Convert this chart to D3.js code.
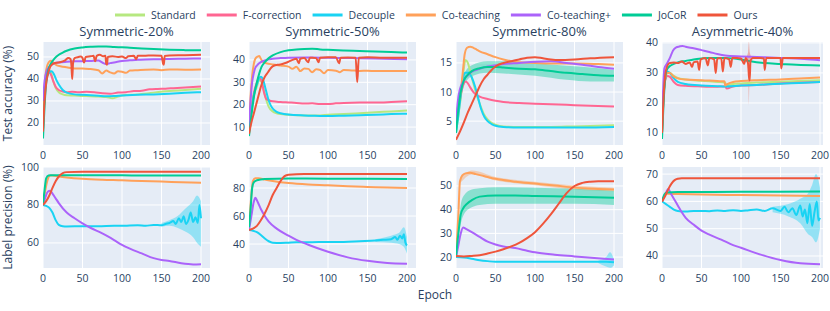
<!DOCTYPE html>
<html>
<head>
<meta charset="utf-8">
<title>Noisy label curves</title>
<script src="https://d3js.org/d3.v7.min.js"></script>
<style>
body { margin: 0; background: #fff; font-family: 'Open Sans', verdana, arial, sans-serif; }
svg text { fill: #2a3f5f; }
</style>
</head>
<body>
<script>
// ---- data ----
var methods = ["Standard", "F-correction", "Decouple", "Co-teaching", "Co-teaching+", "JoCoR", "Ours"];
var panelTitles = ["Symmetric-20%", "Symmetric-50%", "Symmetric-80%", "Asymmetric-40%"];
var rowTitles = ["Test accuracy (%)", "Label precision (%)"];
var xTicks = [0, 50, 100, 150, 200];
var yTicksAcc = [[20, 30, 40, 50], [10, 20, 30, 40], [5, 10, 15], [10, 20, 30, 40]];
var yTicksPrec = [[60, 80, 100], [40, 60, 80], [20, 30, 40, 50], [40, 50, 60, 70]];
var yRangeAcc = [[10, 56.8], [2, 48], [0.9, 18.6], [6, 40.3]];
var yRangePrec = [[46.8, 100], [22.9, 95], [15.4, 58], [35.6, 72.6]];

// test accuracy, [epoch, value]
var accSym20 = {
  "Standard": [[0,17],[2,33],[5,42],[8,44],[10,43],[13,39],[16,36],[20,34],[25,33],[30,32.6],[40,32.5],[50,32.3],[60,32.2],[70,32],[80,31.8],[88,31.2],[95,32],[100,32.5],[120,33],[140,33.8],[160,34.5],[180,35],[200,35.6]],
  "F-correction": [[0,17],[2,33],[5,41],[8,43],[10,42],[13,39],[16,36.5],[20,35],[25,34.3],[30,34],[37,34.2],[45,34],[55,34.2],[65,34],[75,33.5],[85,33.3],[95,33.8],[105,34],[115,34.5],[125,34.7],[135,35.3],[145,35.5],[155,35.6],[165,35.8],[180,36.1],[200,36.6]],
  "Decouple": [[0,17],[2,33],[5,41],[8,43],[11,43.5],[14,42],[17,39.5],[20,37.5],[25,35],[30,33.8],[40,33],[50,32.8],[60,32.6],[70,32.4],[80,32.2],[90,32.3],[100,32.5],[120,32.8],[140,33],[160,33.3],[180,33.7],[200,34]],
  "Co-teaching": [[0,22],[2,36],[4,44],[7,47.5],[10,48.3],[13,47.5],[17,46.3],[22,45.8],[30,45.3],[40,44.8],[50,44.8],[60,44.5],[70,44],[75,42.5],[80,43.8],[85,43],[90,42.5],[95,43.5],[100,43.3],[105,42.8],[110,43.8],[120,44],[130,44.2],[140,44.3],[150,44],[160,44.3],[180,44.2],[200,44.3]],
  "Co-teaching+": [[0,30],[2,39],[5,44],[10,46.3],[15,47.2],[20,47.5],[30,47.8],[40,48],[50,48.1],[60,48.2],[70,48.4],[75,47.5],[80,46.8],[85,47.2],[90,47.5],[100,48.2],[110,48.5],[120,48.7],[130,48.9],[140,49],[150,49],[160,49.1],[180,49.2],[200,49.3]],
  "JoCoR": [[0,13],[2,28],[4,38],[6,43],[8,45.5],[10,47],[15,49.5],[20,51],[25,52],[30,52.8],[40,53.8],[50,54.3],[60,54.6],[70,54.8],[80,54.8],[90,54.5],[100,54.4],[110,54.2],[120,54],[140,53.6],[160,53.3],[180,53.1],[200,53]],
  "Ours": [[0,16],[2,30],[4,38],[6,42],[8,44.5],[10,46],[15,47.3],[20,47.5],[25,48],[28,48.5],[32,49.5],[35,49],[36,46],[37,40],[38,47],[40,49.5],[45,50],[48,50.2],[50,49.5],[52,47.5],[54,50],[60,50.3],[64,50.5],[66,48],[68,50.5],[72,51],[76,50.3],[79,50.5],[80,47],[81,46.5],[82,50],[88,50.3],[95,50],[100,50.2],[105,49.5],[108,50.3],[115,50.5],[118,49],[120,50.5],[130,50.6],[140,50.7],[150,50.6],[152,47],[153,46.5],[154,50.5],[160,50.7],[180,50.8],[200,51]]
};
var accSym50 = {
  "Standard": [[0,8],[3,18],[6,24],[10,28],[13,31],[16,30],[19,26],[22,22],[25,19],[30,17],[35,16.2],[40,15.8],[50,15.5],[70,15.2],[90,15.2],[100,15.5],[120,15.8],[140,16.2],[160,16.6],[180,17],[200,17.4]],
  "F-correction": [[0,8],[3,18],[6,25],[10,30],[13,32],[16,30.5],[19,25.5],[22,22.5],[25,22],[30,21.5],[40,21.2],[50,21],[60,20.8],[70,20.5],[80,20.6],[90,20.3],[100,20.3],[110,20.6],[120,20.8],[140,21],[160,21],[180,21.2],[200,21.5]],
  "Decouple": [[0,8],[3,17],[6,24],[10,29],[13,32],[15,32.5],[18,31],[21,27],[24,23],[27,20],[30,18.3],[35,16.8],[40,16.2],[50,15.6],[70,15.2],[90,15],[100,14.9],[120,15.1],[140,15.3],[160,15.5],[180,15.8],[200,16]],
  "Co-teaching": [[0,10],[2,24],[4,33],[6,38],[8,40.5],[11,41.5],[13,41.7],[15,40.5],[18,39],[22,38.5],[30,38],[40,37.5],[50,37],[55,36],[60,37],[65,35],[70,36.2],[75,36],[80,34.5],[85,35.8],[90,35.5],[95,34],[100,35.5],[110,35.2],[115,34.5],[120,35.5],[130,35.3],[140,35.1],[150,35.2],[160,35],[180,35.1],[200,35]],
  "Co-teaching+": [[0,10],[2,22],[4,30],[6,34],[8,36.5],[10,37.5],[15,39],[20,39.8],[30,40.5],[40,40.8],[50,41],[70,41.1],[90,41],[100,41],[130,40.8],[160,40.6],[200,40.3]],
  "JoCoR": [[0,6],[3,15],[6,23],[8,27],[10,30],[13,34],[16,37],[20,39],[25,40.8],[30,42],[40,43.5],[50,44.3],[60,44.7],[70,44.9],[80,45],[90,44.7],[100,44.5],[120,44.2],[140,44],[160,43.8],[180,43.5],[200,43.3]],
  "Ours": [[0,7],[3,12],[6,16],[9,20],[12,24],[15,28],[18,31],[21,33],[24,34.5],[28,36.5],[32,37.5],[36,37.8],[40,38],[45,38.5],[50,39.2],[55,40],[60,40.5],[63,38.5],[65,40.5],[70,40.8],[75,39],[77,41],[80,41],[85,40.8],[88,39],[90,41],[100,41.2],[110,41.2],[114,38.5],[116,41],[125,41.1],[135,41],[137,30],[139,41],[150,41.2],[170,41],[200,41]]
};
var accSym80 = {
  "Standard": [[0,3],[3,6],[6,9],[9,13],[12,15.5],[15,15],[18,13.5],[21,12],[25,10],[30,8],[35,6.3],[40,5.3],[45,4.7],[50,4.4],[60,4.1],[80,4],[100,4],[120,4],[150,4.1],[180,4.2],[200,4.3]],
  "F-correction": [[0,4],[3,7],[6,9.5],[9,11.2],[12,11.8],[15,11.5],[18,10.8],[22,10],[26,9.5],[30,9.2],[40,8.8],[50,8.5],[60,8.3],[80,8.1],[100,8],[120,7.9],[140,7.8],[160,7.7],[180,7.6],[200,7.5]],
  "Decouple": [[0,3],[3,6],[6,9.5],[9,12.5],[12,13.3],[16,13.3],[20,12.5],[24,11],[28,9],[32,7],[36,5.7],[40,5],[45,4.5],[50,4.2],[60,4],[80,3.9],[100,3.9],[130,3.9],[160,3.9],[200,4]],
  "Co-teaching": [[0,4],[3,8],[6,10],[9,14],[11,16.5],[14,17.6],[18,17.8],[22,17.6],[26,17.3],[30,17],[40,16.5],[50,16],[60,15.6],[70,15.3],[80,15.1],[100,15],[120,14.9],[150,14.9],[180,14.8],[200,14.7]],
  "Co-teaching+": [[0,4],[2,8],[5,10.5],[8,11.5],[12,12.5],[16,13],[20,13.5],[30,14],[40,14.4],[50,14.6],[60,14.8],[80,15],[100,15.2],[120,15.3],[140,15],[160,14.7],[180,14.3],[200,14]],
  "JoCoR": [[0,3],[3,7],[6,10],[10,12],[15,13],[20,13.6],[30,14.1],[40,14.3],[50,14.3],[60,14.2],[80,14],[100,13.9],[120,13.6],[140,13.3],[160,13.1],[180,12.9],[200,12.8]],
  "Ours": [[0,1.8],[5,3.2],[10,4.8],[15,6.5],[20,8],[25,9.5],[30,11],[35,12.2],[40,13],[45,13.8],[50,14.4],[60,15],[70,15.3],[80,15.6],[90,15.9],[100,16],[110,15.8],[120,15.6],[130,15.5],[150,15.6],[170,15.8],[200,16]]
};
var accAsym40 = {
  "Standard": [[0,10],[2,22],[4,28],[7,30],[10,30],[15,29],[20,28.3],[30,27.8],[50,27.4],[70,27],[80,26.8],[81,26],[90,26.3],[100,26.5],[120,26.8],[150,27.1],[180,27.4],[200,27.6]],
  "F-correction": [[0,10],[2,22],[4,27.5],[7,29],[10,28.7],[15,27],[20,26],[30,25.7],[50,25.5],[70,25.4],[80,25.5],[82,24.8],[90,25.5],[100,25.8],[120,26],[150,26.5],[180,26.8],[200,27]],
  "Decouple": [[0,10],[2,23],[4,28],[7,30.5],[10,30],[14,28.5],[20,27],[30,26.3],[50,25.8],[70,25.6],[80,25.5],[100,25.8],[120,26],[150,26.4],[180,26.7],[200,27]],
  "Co-teaching": [[0,10],[2,23],[4,28],[7,30],[10,30],[14,29],[20,28.2],[30,27.8],[50,27.6],[70,27.3],[79,27.2],[80,25.8],[82,26.2],[90,27],[100,27.3],[120,27.6],[150,27.8],[180,28.2],[200,28.5]],
  "Co-teaching+": [[0,12],[2,28],[3,31.5],[6,33],[10,35],[14,37.5],[18,38.5],[22,38.8],[26,39],[30,38.7],[40,38.2],[50,37.6],[60,37],[70,36.3],[80,35.8],[100,35.5],[120,35.3],[150,35],[180,34.6],[200,34.2]],
  "JoCoR": [[0,8],[2,20],[4,28],[6,31],[10,32.3],[15,33],[20,33.5],[30,34],[40,34.5],[50,34.8],[60,35],[80,35],[100,34.5],[110,34],[130,33.3],[150,33],[170,32.7],[200,32.5]],
  "Ours": [[0,10],[2,22],[4,29],[7,32.5],[10,33.3],[15,33.5],[20,33.3],[25,33.8],[30,33],[35,33.5],[38,32],[40,33.5],[45,33.8],[47,31],[49,34.5],[55,35],[58,32.5],[60,35],[66,34.5],[68,30],[70,34.8],[75,35],[77,30.5],[79,35],[85,34.5],[87,32],[89,35],[95,35],[100,34.8],[104,33],[106,35],[109,33],[110,29],[111,27.5],[112,34],[115,35],[125,35],[129,34.8],[130,31],[132,35],[140,35],[150,35],[151,31.5],[153,35],[170,35],[200,35]]
};

// label precision, [epoch, value]
var precSym20 = {
  "Decouple": [[0,80],[4,79.5],[8,78.5],[12,76],[16,72],[20,69.5],[25,68.8],[30,68.7],[50,68.8],[70,68.8],[90,69],[100,69],[110,69.2],[120,69.3],[130,69],[140,69.5],[150,69.3],[155,70],[160,70.5],[165,71.5],[168,70],[172,73],[175,71],[178,74],[181,70],[184,72],[187,76],[190,71],[193,73.5],[196,70.5],[198,80],[200,73]],
  "Co-teaching": [[0,80],[3,88],[6,93.5],[9,95.5],[12,95.5],[20,95],[30,94.5],[50,93.8],[75,93.3],[100,93],[125,92.6],[150,92.3],[175,92],[200,91.7]],
  "Co-teaching+": [[0,80],[3,84],[6,87],[9,87.5],[12,86],[16,83.5],[20,81],[30,76],[40,73],[50,70.3],[60,68],[75,65],[90,61.5],[100,59],[110,57],[125,54.5],[140,52],[150,51],[160,50.5],[175,49.3],[190,48.7],[200,48.8]],
  "JoCoR": [[0,80],[2,88],[4,94],[7,95.5],[10,95.6],[50,95.6],[100,95.6],[150,95.5],[200,95.5]],
  "Ours": [[0,80],[4,82],[8,85],[12,89],[16,92.5],[20,95],[25,96.8],[30,97.3],[50,97.5],[100,97.5],[200,97.5]]
};
var precSym50 = {
  "Decouple": [[0,50],[5,49.5],[10,48.5],[15,46.5],[20,44],[25,42],[30,41],[40,40.8],[50,41],[60,41.2],[80,41.3],[100,41.5],[120,41.5],[140,42],[160,42.5],[170,43],[180,43.5],[185,45],[188,43],[191,46],[194,44],[196,47],[198,41],[200,39]],
  "Co-teaching": [[0,52],[3,75],[5,85],[8,87],[12,87],[20,86],[30,85],[50,83.5],[75,82.5],[100,82],[125,81.3],[150,80.8],[175,80.3],[200,80]],
  "Co-teaching+": [[0,50],[3,60],[6,70],[8,73],[11,70],[15,65],[20,60],[25,56],[35,51],[50,46],[60,43],[75,39.5],[100,34.5],[125,30.5],[150,28],[175,26.5],[200,26]],
  "JoCoR": [[0,52],[2,65],[4,80],[6,84],[10,85.5],[20,86.5],[50,86.8],[100,86.7],[200,86.5]],
  "Ours": [[0,50],[5,51],[10,53],[15,57],[20,62],[25,68],[30,75],[35,80],[40,85],[45,88.5],[50,89.5],[70,90],[200,90]]
};
var precSym80 = {
  "Decouple": [[0,20],[10,19.8],[20,19.3],[30,18.7],[40,18.3],[50,18],[100,18],[150,18],[190,18],[200,17.8]],
  "Co-teaching": [[0,20],[3,38],[5,52],[8,54.5],[12,55.3],[18,55.6],[25,55],[35,54.2],[50,53],[75,51.8],[100,51],[125,50.2],[150,49.3],[175,48.8],[200,48.5]],
  "Co-teaching+": [[0,20],[3,25],[6,30],[9,32.5],[12,32],[20,30.5],[30,28.5],[40,26.5],[50,25.3],[60,24.5],[75,23.8],[90,22.7],[100,22],[125,21],[150,20.3],[175,19.6],[200,19]],
  "JoCoR": [[0,20],[3,30],[6,38],[9,40.5],[14,42.5],[20,44],[30,45.5],[50,46],[75,46],[100,45.8],[150,45.5],[200,45]],
  "Ours": [[0,20.5],[10,20.3],[20,20.5],[30,20.8],[40,21.5],[50,22.3],[60,23.3],[70,24.5],[80,26],[90,28],[100,30.5],[110,34],[120,38],[130,42.5],[140,47],[150,50],[160,51.3],[170,51.8],[180,52],[200,52]]
};
var precAsym40 = {
  "Decouple": [[0,60],[5,59],[10,58],[15,57],[20,56.5],[30,56.3],[40,56.5],[50,56.5],[60,56.4],[70,56.7],[80,56.5],[90,56.8],[100,56.5],[110,56.8],[120,57],[130,56.5],[140,57.5],[150,56.5],[155,58],[160,56],[165,57.5],[170,55],[175,58.5],[178,54.5],[181,57],[184,52],[187,59],[190,51],[193,56],[196,60],[198,53],[200,54]],
  "Co-teaching": [[0,60],[3,62],[6,62.8],[20,62.7],[100,62.3],[200,62]],
  "Co-teaching+": [[0,60],[4,62.5],[8,64.5],[11,63],[15,61],[20,58.5],[25,56],[30,54],[40,51.5],[50,49.3],[60,47.8],[75,46],[90,44],[100,43],[125,40.5],[150,38.5],[175,37.3],[200,37]],
  "JoCoR": [[0,60],[3,62.5],[6,63.3],[20,63.4],[100,63.5],[200,63.6]],
  "Ours": [[0,60],[4,62],[8,64.5],[12,66.5],[16,67.8],[20,68.3],[25,68.5],[200,68.5]]
};

// std bands, [epoch, low, high]
var bandsAccSym80 = {
  "JoCoR": [[0,2.5,3.5],[10,11,13],[20,12.7,14.6],[40,13.3,15.3],[60,13.2,15.3],[100,12.8,15],[140,12.1,14.5],[170,11.8,14.2],[200,11.8,13.8]]
};
var bandsAccAsym40 = {
  "Ours": [[107,34,35.5],[109,31,37],[110,19,40.5],[111,31,37],[113,34,35.5]]
};
var bandsPrecSym20 = {
  "Decouple": [[150,68.5,70.5],[160,69,72],[170,68,74],[180,66,78],[190,63,82],[195,60,85],[200,58,82]]
};
var bandsPrecSym50 = {
  "Decouple": [[160,41.5,43.5],[180,41,46],[190,40,48],[196,38,52],[200,33,45]]
};
var bandsPrecSym80 = {
  "Decouple": [[180,17.5,18.5],[190,16,20],[195,15.5,22],[200,16.5,19]],
  "Co-teaching": [[5,51,53],[20,54.8,56.5],[50,52.3,53.8],[100,50.3,51.8],[150,48.5,50.2],[200,47.8,49.3]],
  "JoCoR": [[0,19.5,20.5],[6,34,42],[10,38,46],[20,41,48.5],[30,42,49],[50,42.5,49.5],[100,42.5,49.3],[150,42.5,48.8],[200,42,48]]
};
var bandsPrecAsym40 = {
  "Decouple": [[140,56,58],[160,54.5,59],[175,52,61],[185,48,63],[190,47,66],[195,45,70],[200,50,65]]
};

// ---- styles / layout ----
var colors = {
  "Standard": "#B6E880", "F-correction": "#FF6692", "Decouple": "#19D3F3",
  "Co-teaching": "#FFA15A", "Co-teaching+": "#AB63FA", "JoCoR": "#00CC96", "Ours": "#EF553B"
};
var W = 830, H = 311;
var panelX = [43, 249, 456, 662];
var panelW = [167, 167, 167, 161];
var rowY = [42, 167];
var rowH = [103, 101];
var pxPerEpoch = 0.79;

var rows = [
  { series: [accSym20, accSym50, accSym80, accAsym40], bands: [{}, {}, bandsAccSym80, bandsAccAsym40], ranges: yRangeAcc, ticks: yTicksAcc },
  { series: [precSym20, precSym50, precSym80, precAsym40], bands: [bandsPrecSym20, bandsPrecSym50, bandsPrecSym80, bandsPrecAsym40], ranges: yRangePrec, ticks: yTicksPrec }
];

var svg = d3.select("body").append("svg")
  .attr("width", W).attr("height", H)
  .style("font-family", "'Open Sans', verdana, arial, sans-serif");

rows.forEach(function(row, r) {
  for (var c = 0; c < 4; c++) {
    var x0 = panelX[c], y0 = rowY[r], w = panelW[c], h = rowH[r];
    var x = d3.scaleLinear().domain([0, w / pxPerEpoch]).range([x0, x0 + w]);
    var y = d3.scaleLinear().domain(row.ranges[c]).range([y0 + h, y0]);
    var g = svg.append("g");

    g.append("rect").attr("x", x0).attr("y", y0).attr("width", w).attr("height", h).attr("fill", "#E5ECF6");

    // grid
    g.selectAll(".gx").data(xTicks).enter().append("line")
      .attr("x1", function(d) { return x(d); }).attr("x2", function(d) { return x(d); })
      .attr("y1", y0).attr("y2", y0 + h).attr("stroke", "#fff").attr("stroke-width", 1);
    g.selectAll(".gy").data(row.ticks[c]).enter().append("line")
      .attr("y1", function(d) { return y(d); }).attr("y2", function(d) { return y(d); })
      .attr("x1", x0).attr("x2", x0 + w).attr("stroke", "#fff").attr("stroke-width", 1);

    // tick labels
    g.selectAll(".tx").data(xTicks).enter().append("text")
      .attr("x", function(d) { return x(d); }).attr("y", y0 + h + 14)
      .attr("text-anchor", "middle").attr("font-size", 10.5).text(function(d) { return d; });
    g.selectAll(".ty").data(row.ticks[c]).enter().append("text")
      .attr("x", x0 - 4).attr("y", function(d) { return y(d) + 3.5; })
      .attr("text-anchor", "end").attr("font-size", 10.5).text(function(d) { return d; });

    var clipId = "clip" + r + c;
    svg.append("clipPath").attr("id", clipId).append("rect")
      .attr("x", x0).attr("y", y0).attr("width", w).attr("height", h);
    var plot = g.append("g").attr("clip-path", "url(#" + clipId + ")");

    var area = d3.area().x(function(d) { return x(d[0]); })
      .y0(function(d) { return y(d[1]); }).y1(function(d) { return y(d[2]); })
      .curve(d3.curveMonotoneX);
    var line = d3.line().x(function(d) { return x(d[0]); }).y(function(d) { return y(d[1]); })
      .curve(d3.curveMonotoneX);

    var data = row.series[c], bands = row.bands[c];
    methods.forEach(function(m) {
      if (bands[m]) {
        plot.append("path").attr("d", area(bands[m])).attr("fill", colors[m]).attr("opacity", 0.4);
      }
    });
    methods.forEach(function(m) {
      if (!data[m]) return;
      plot.append("path").attr("d", line(data[m])).attr("fill", "none")
        .attr("stroke", colors[m]).attr("stroke-width", 2).attr("stroke-linejoin", "round");
    });

    if (r == 0) {
      svg.append("text").attr("x", x0 + w / 2).attr("y", 36).attr("text-anchor", "middle")
        .attr("font-size", 13).text(panelTitles[c]);
    }
  }
  // row title
  var cy = rowY[r] + rowH[r] / 2;
  svg.append("text").attr("transform", "translate(12," + cy + ") rotate(-90)")
    .attr("text-anchor", "middle").attr("font-size", 12).text(rowTitles[r]);
});

svg.append("text").attr("x", 435).attr("y", 299).attr("text-anchor", "middle")
  .attr("font-size", 12).text("Epoch");

// legend
var legend = svg.append("g");
var lx = 115;
methods.forEach(function(m) {
  legend.append("line").attr("x1", lx).attr("x2", lx + 30).attr("y1", 15).attr("y2", 15)
    .attr("stroke", colors[m]).attr("stroke-width", 3);
  var t = legend.append("text").attr("x", lx + 36).attr("y", 18.5).attr("font-size", 10.5).text(m);
  lx += 36 + t.node().getComputedTextLength() + 11;
});
</script>
</body>
</html>
